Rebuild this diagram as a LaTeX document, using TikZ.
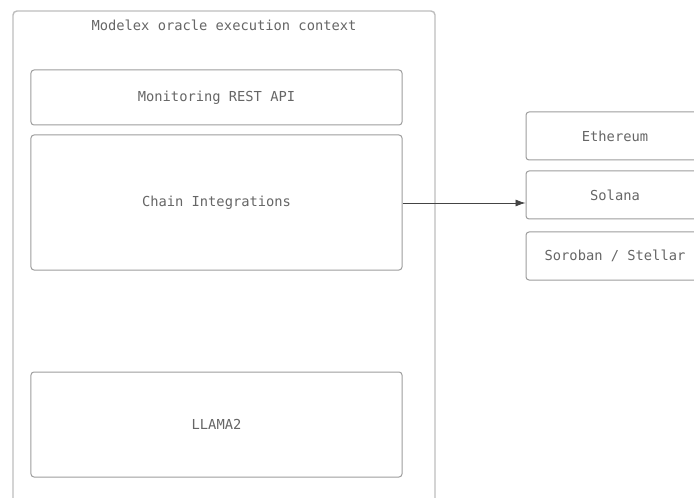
\documentclass[tikz,border=0pt]{standalone}
\usepackage{fontspec}
\setmonofont{DejaVu Sans Mono}
\usetikzlibrary{arrows.meta}
\definecolor{txt}{HTML}{666666}
\definecolor{bord}{HTML}{9E9E9E}
\definecolor{outer}{HTML}{BDBDBD}
\definecolor{arr}{HTML}{444444}
\tikzset{
  box/.style={draw=bord, line width=1bp, rounded corners=3bp, fill=white,
    font=\ttfamily\fontsize{13.8}{15}\selectfont, text=txt, inner sep=0pt},
  lbl/.style={font=\ttfamily\fontsize{13.8}{15}\selectfont, text=txt, inner sep=0pt},
  conn/.style={draw=arr, line width=0.8bp, -{Latex[length=10bp,width=7bp]}}
}
\begin{document}
\begin{tikzpicture}[x=1bp,y=-1bp]
\useasboundingbox (0,0) rectangle (694,498);
\clip (0,0) rectangle (694,498);
\fill[white] (0,0) rectangle (694,498);
% outer container
\draw[draw=outer, line width=1.4bp, rounded corners=4bp] (13,510) -- (13,11) -- (435,11) -- (435,510);
\node[lbl] (title) at (224,25) {Modelex oracle execution context};
% inner boxes
\node[box, minimum width=371bp, minimum height=55bp] (rest) at (216.5,97.5) {Monitoring REST API};
\node[box, minimum width=371bp, minimum height=135bp] (chain) at (216.5,202.5) {Chain Integrations};
\node[box, minimum width=371bp, minimum height=105bp] (llama) at (216.5,424.5) {LLAMA2};
% chains
\node[box, minimum width=178bp, minimum height=48bp] (eth) at (615,136) {Ethereum};
\node[box, minimum width=178bp, minimum height=48bp] (sol) at (615,195) {Solana};
\node[box, minimum width=178bp, minimum height=48bp] (sor) at (615,256) {Soroban / Stellar};
\draw[conn] (chain.east |- 0,203) -- (sol.west |- 0,203);
\end{tikzpicture}
\end{document}
